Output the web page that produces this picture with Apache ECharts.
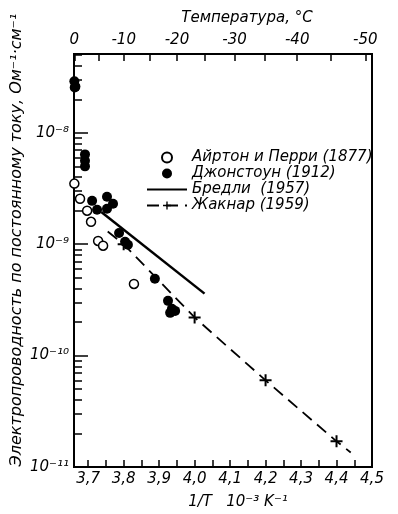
<!DOCTYPE html>
<html>
<head>
<meta charset="utf-8">
<script src="https://cdn.jsdelivr.net/npm/echarts@6/dist/echarts.min.js"></script>
<style>
  html, body { margin: 0; padding: 0; background: #fff; }
  #chart { width: 398px; height: 514px; }
</style>
</head>
<body>
<div id="chart"></div>
<script>
// x: 1/T, 10^-3 K^-1 ; y: conductivity, Ohm^-1 cm^-1
var ayrtonX = [3.661, 3.677, 3.697, 3.708, 3.728, 3.742, 3.829];
var ayrtonY = [3.5e-9, 2.56e-9, 2.0e-9, 1.59e-9, 1.07e-9, 9.7e-10, 4.4e-10];

var johnstonX = [3.661, 3.664, 3.662, 3.691, 3.691, 3.691, 3.711, 3.725, 3.753, 3.770, 3.753, 3.787, 3.804, 3.812, 3.888, 3.925, 3.936, 3.931, 3.945];
var johnstonY = [2.9e-8, 2.6e-8, 2.55e-8, 6.4e-9, 5.6e-9, 5.0e-9, 2.45e-9, 2.04e-9, 2.67e-9, 2.31e-9, 2.08e-9, 1.26e-9, 1.05e-9, 9.9e-10, 4.9e-10, 3.1e-10, 2.63e-10, 2.42e-10, 2.52e-10];

var bradleyX = [3.737, 4.028];
var bradleyY = [1.95e-9, 3.6e-10];

var jaccardX = [3.755, 3.8, 4.0, 4.2, 4.4, 4.44];
var jaccardY = [1.3e-9, 1.0e-9, 2.2e-10, 6.0e-11, 1.7e-11, 1.35e-11];
var jaccardMarked = [false, true, true, true, true, false];

var xTickLabels = [3.7, 3.8, 3.9, 4.0, 4.1, 4.2, 4.3, 4.4, 4.5];
var xMinorTicks = [3.7, 3.75, 3.8, 3.85, 3.9, 3.95, 4.0, 4.05, 4.1, 4.15, 4.2, 4.25, 4.3, 4.35, 4.4, 4.45, 4.5];
var tempLabels = [0, -10, -20, -30, -40, -50];
var tempTicks = [0, -5, -10, -15, -20, -25, -30, -35, -40, -45, -50];

var xMin = 3.66, xMax = 4.5;
var yMin = 1e-11, yMax = 5.1e-8;

var FONT = "'DejaVu Sans', 'Liberation Sans', sans-serif";
var SUP = { '-': '⁻', '0': '⁰', '1': '¹', '2': '²', '3': '³', '4': '⁴', '5': '⁵', '6': '⁶', '7': '⁷', '8': '⁸', '9': '⁹' };

function toInvT(t) { return 1000 / (273.15 + t); }
function pairs(xs, ys) {
    var out = [];
    for (var i = 0; i < xs.length; i++) out.push([xs[i], ys[i]]);
    return out;
}

// minor ticks of the log axis, in log10 units for the helper axis
var logMinor = [];
for (var d = -11; d <= -8; d++) {
    for (var m = 2; m <= 9; m++) {
        var v = d + Math.log10(m);
        if (v < Math.log10(yMax)) logMinor.push(v);
    }
}

var jaccardData = [];
for (var i = 0; i < jaccardX.length; i++) {
    var item = { value: [jaccardX[i], jaccardY[i]] };
    if (!jaccardMarked[i]) item.symbol = 'none';
    jaccardData.push(item);
}

var plusPath = 'path://M5,0H7V5H12V7H7V12H5V7H0V5H5Z';

var myChart = echarts.init(document.getElementById('chart'));
var option = {
    animation: false,
    textStyle: { fontFamily: FONT, fontStyle: 'italic', color: '#000' },
    grid: {
        left: 74, right: 26, top: 54, bottom: 47,
        show: true, borderColor: '#000', borderWidth: 2,
        outerBoundsMode: 'none'
    },
    legend: {
        orient: 'vertical',
        left: 141, top: 145,
        itemWidth: 40, itemHeight: 10, itemGap: 1,
        textStyle: { fontFamily: FONT, fontStyle: 'italic', fontSize: 15, color: '#000', lineHeight: 15 },
        data: ['Айртон и Перри (1877)', 'Джонстоун (1912)', 'Бредли  (1957)', 'Жакнар (1959)']
    },
    xAxis: [{
        type: 'value', position: 'bottom', min: xMin, max: xMax,
        name: '1/T   10⁻³ K⁻¹', nameLocation: 'middle', nameGap: 28,
        nameTextStyle: { fontFamily: FONT, fontStyle: 'italic', fontSize: 15, padding: [0, 0, 0, 30] },
        axisLine: { lineStyle: { color: '#000', width: 2 } },
        axisTick: { inside: true, length: 7, lineStyle: { color: '#000', width: 1.5 }, customValues: xMinorTicks },
        axisLabel: {
            margin: 5, fontSize: 15, fontFamily: FONT, fontStyle: 'italic', color: '#000',
            customValues: xTickLabels,
            formatter: function (v) { return v.toFixed(1).replace('.', ','); }
        },
        splitLine: { show: false }
    }, {
        type: 'value', position: 'top', min: xMin, max: xMax,
        name: 'Температура, °C', nameLocation: 'middle', nameGap: 28,
        nameTextStyle: { fontFamily: FONT, fontStyle: 'italic', fontSize: 15, padding: [0, 0, 0, 48] },
        axisLine: { lineStyle: { color: '#000', width: 2 } },
        axisTick: { inside: true, length: 7, lineStyle: { color: '#000', width: 1.5 }, customValues: tempTicks.map(toInvT) },
        axisLabel: {
            margin: 6, fontSize: 15, fontFamily: FONT, fontStyle: 'italic', color: '#000',
            customValues: tempLabels.map(toInvT),
            formatter: function (v) { return String(Math.round(1000 / v - 273.15)); }
        },
        splitLine: { show: false }
    }],
    yAxis: [{
        type: 'log', logBase: 10, min: yMin, max: yMax,
        axisLine: { lineStyle: { color: '#000', width: 2 } },
        axisTick: { inside: true, length: 14, lineStyle: { color: '#000', width: 1.5 } },
        axisLabel: {
            margin: 5, fontSize: 15, fontFamily: FONT, fontStyle: 'italic', color: '#000',
            formatter: function (v) {
                var e = Math.log10(v);
                if (Math.abs(e - Math.round(e)) > 0.01) return '';
                return '10' + String(Math.round(e)).split('').map(function (c) { return SUP[c]; }).join('');
            }
        },
        splitLine: { show: false }
    }, {
        type: 'value', position: 'left', min: Math.log10(yMin), max: Math.log10(yMax),
        axisLine: { show: false },
        axisTick: { inside: true, length: 8, lineStyle: { color: '#000', width: 1.5 }, customValues: logMinor },
        axisLabel: { show: false },
        splitLine: { show: false }
    }],
    graphic: [{
        type: 'text',
        x: 17, y: 240,
        rotation: Math.PI / 2,
        style: {
            text: 'Электропроводность по постоянному току, Ом⁻¹·см⁻¹',
            font: 'italic 16px ' + FONT,
            fill: '#000',
            textAlign: 'center',
            textVerticalAlign: 'middle'
        }
    }],
    series: [{
        name: 'Айртон и Перри (1877)',
        type: 'scatter',
        symbol: 'circle', symbolSize: 9,
        itemStyle: { color: '#fff', borderColor: '#000', borderWidth: 1.5, opacity: 1 },
        data: pairs(ayrtonX, ayrtonY),
        z: 3
    }, {
        name: 'Джонстоун (1912)',
        type: 'scatter',
        symbol: 'circle', symbolSize: 10,
        itemStyle: { color: '#000', opacity: 1 },
        data: pairs(johnstonX, johnstonY),
        z: 4
    }, {
        name: 'Бредли  (1957)',
        type: 'line',
        symbol: 'none',
        lineStyle: { color: '#000', width: 2.5 },
        itemStyle: { color: '#000', opacity: 0 },
        data: pairs(bradleyX, bradleyY)
    }, {
        name: 'Жакнар (1959)',
        type: 'line',
        symbol: plusPath, symbolSize: 12, showSymbol: true,
        lineStyle: { color: '#000', width: 1.8, type: [12, 7] },
        itemStyle: { color: '#000' },
        data: jaccardData
    }]
};
myChart.setOption(option);
</script>
</body>
</html>
